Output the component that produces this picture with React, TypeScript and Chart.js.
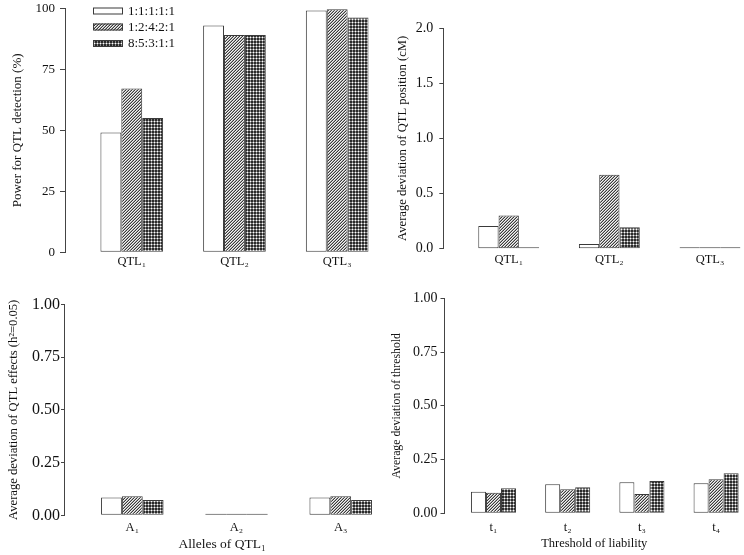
import React, { useEffect, useRef } from "react";
import { Chart, registerables } from "chart.js";

Chart.register(...registerables);

// ---------- data ----------
const seriesLabels = ["1:1:1:1:1", "1:2:4:2:1", "8:5:3:1:1"];

const powerCats = ["QTL₁", "QTL₂", "QTL₃"];
const powerS1 = [49.1, 93.0, 99.1];
const powerS2 = [67.1, 89.1, 99.6];
const powerS3 = [55.0, 89.1, 96.2];
const powerTicks = [0, 25, 50, 75, 100];

const posCats = ["QTL₁", "QTL₂", "QTL₃"];
const posS1 = [0.206, 0.043, 0];
const posS2 = [0.30, 0.67, 0.005];
const posS3 = [0, 0.194, 0];
const posTicks = [0, 0.5, 1.0, 1.5, 2.0];

const effCats = ["A₁", "A₂", "A₃"];
const effS1 = [0.084, 0, 0.084];
const effS2 = [0.09, 0.003, 0.09];
const effS3 = [0.072, 0, 0.073];
const effTicks = [0, 0.25, 0.5, 0.75, 1.0];

const thrCats = ["t₁", "t₂", "t₃", "t₄"];
const thrS1 = [0.10, 0.135, 0.144, 0.14];
const thrS2 = [0.096, 0.112, 0.09, 0.158];
const thrS3 = [0.116, 0.121, 0.15, 0.186];
const thrTicks = [0, 0.25, 0.5, 0.75, 1.0];

// ---------- styling helpers ----------
const FONT = "'Liberation Serif', 'Times New Roman', serif";
const AXIS = "#444";
const TEXT = "#111";
const EDGE = "#3a3a3a";

function makeHatch(): CanvasPattern | string {
  const c = document.createElement("canvas");
  c.width = 3;
  c.height = 3;
  const g = c.getContext("2d");
  if (!g) return "#999";
  g.fillStyle = "#f4f4f4";
  g.fillRect(0, 0, 3, 3);
  g.fillStyle = "#3a3a3a";
  g.fillRect(0, 2, 1, 1);
  g.fillRect(1, 1, 1, 1);
  g.fillRect(2, 0, 1, 1);
  g.fillStyle = "#a8a8a8";
  g.fillRect(0, 1, 1, 1);
  g.fillRect(1, 0, 1, 1);
  g.fillRect(2, 2, 1, 1);
  return g.createPattern(c, "repeat") || "#999";
}

function makeCross(): CanvasPattern | string {
  const c = document.createElement("canvas");
  c.width = 3;
  c.height = 3;
  const g = c.getContext("2d");
  if (!g) return "#555";
  g.fillStyle = "#2a2a2a";
  g.fillRect(0, 0, 3, 3);
  g.fillStyle = "#ffffff";
  g.fillRect(1, 1, 1, 1);
  g.fillStyle = "#8a8a8a";
  g.fillRect(1, 0, 1, 1);
  g.fillRect(0, 1, 1, 1);
  g.fillRect(2, 1, 1, 1);
  g.fillRect(1, 2, 1, 1);
  return g.createPattern(c, "repeat") || "#555";
}

const legendPlugin = {
  id: "patternLegend",
  afterDatasetsDraw(chart: any, _args: any, opts: any) {
    if (!opts || !opts.show) return;
    const ctx = chart.ctx;
    ctx.save();
    chart.data.datasets.forEach((ds: any, i: number) => {
      const cy = opts.ys[i];
      const x = opts.x;
      ctx.fillStyle = ds.backgroundColor;
      ctx.fillRect(x, cy - opts.boxH / 2, opts.boxW, opts.boxH);
      ctx.strokeStyle = EDGE;
      ctx.lineWidth = 1;
      ctx.strokeRect(x + 0.5, cy - opts.boxH / 2 + 0.5, opts.boxW - 1, opts.boxH - 1);
      ctx.fillStyle = TEXT;
      ctx.font = `${opts.fontSize}px ${FONT}`;
      ctx.textBaseline = "middle";
      ctx.textAlign = "left";
      ctx.fillText(ds.label, x + opts.boxW + opts.gap, cy + 0.5);
    });
    ctx.restore();
  },
};

type PanelProps = {
  left: number;
  top: number;
  width: number;
  height: number;
  axisX: number;
  plotTop: number;
  plotBottom: number;
  xMin: number;
  xMax: number;
  catPct: number;
  cats: string[];
  series: number[][];
  yTicks: number[];
  decimals: number;
  yTitle: string;
  yTitleSize: number;
  yTitlePad: number;
  xTitle?: string;
  xTitleSize?: number;
  xTitlePad?: number;
  tickSize: number;
  tickLen: number;
  tickPad: number;
  catSize: number;
  catPad: number;
  legend?: boolean;
};

function Panel(p: PanelProps) {
  const ref = useRef<HTMLCanvasElement | null>(null);
  useEffect(() => {
    if (!ref.current) return;
    const fills = ["#ffffff", makeHatch(), makeCross()];
    const yMax = p.yTicks[p.yTicks.length - 1];
    const datasets = p.series.map((vals, si) => ({
      label: seriesLabels[si],
      data: vals.map((v, i) => ({ x: i + 1, y: v })),
      backgroundColor: fills[si] as any,
      borderColor: EDGE,
      borderWidth: 1,
      borderSkipped: false as any,
      minBarLength: 1.5,
      categoryPercentage: p.catPct,
      barPercentage: 1,
      clip: false as any,
    }));
    const chart = new Chart(ref.current, {
      type: "bar",
      data: { datasets },
      options: {
        animation: false,
        responsive: false,
        devicePixelRatio: 1,
        layout: {
          padding: {
            left: 0,
            right: 0,
            top: p.plotTop - p.top,
            bottom: 0,
          },
        },
        plugins: {
          legend: { display: false },
          tooltip: { enabled: false },
          patternLegend: {
            show: !!p.legend,
            x: 93,
            ys: [11, 27, 43.5],
            boxW: 30,
            boxH: 7,
            gap: 5,
            fontSize: 13,
          },
        } as any,
        scales: {
          x: {
            type: "linear",
            offset: false,
            min: p.xMin,
            max: p.xMax,
            grid: { display: false, drawTicks: false, offset: false },
            border: { display: false },
            afterBuildTicks: (scale: any) => {
              scale.ticks = p.cats.map((_, i) => ({ value: i + 1 }));
            },
            afterFit: (scale: any) => {
              scale.height = p.top + p.height - p.plotBottom;
              scale.paddingLeft = 0;
              scale.paddingRight = 0;
              scale.paddingTop = 0;
              scale.paddingBottom = 0;
            },
            ticks: {
              autoSkip: false,
              maxRotation: 0,
              minRotation: 0,
              padding: p.catPad,
              color: TEXT,
              font: { family: FONT, size: p.catSize },
              callback: (v: any) => p.cats[Math.round(Number(v)) - 1] ?? "",
            },
            title: p.xTitle
              ? {
                  display: true,
                  text: p.xTitle,
                  color: TEXT,
                  font: { family: FONT, size: p.xTitleSize },
                  padding: { top: 0, bottom: p.xTitlePad ?? 0 },
                }
              : { display: false },
          } as any,
          y: {
            type: "linear",
            min: 0,
            max: yMax,
            grid: {
              drawOnChartArea: false,
              drawTicks: true,
              tickLength: p.tickLen,
              color: AXIS,
            },
            border: { display: true, color: AXIS, width: 1 },
            afterBuildTicks: (scale: any) => {
              scale.ticks = p.yTicks.map((v) => ({ value: v }));
            },
            afterFit: (scale: any) => {
              scale.width = p.axisX - p.left;
              scale.paddingTop = 0;
              scale.paddingBottom = 0;
              scale.paddingLeft = 0;
              scale.paddingRight = 0;
            },
            ticks: {
              padding: p.tickPad,
              color: TEXT,
              font: { family: FONT, size: p.tickSize },
              callback: (v: any) => Number(v).toFixed(p.decimals),
            },
            title: {
              display: true,
              text: p.yTitle,
              color: TEXT,
              font: { family: FONT, size: p.yTitleSize },
              padding: { top: p.yTitlePad, bottom: 0 },
            },
          },
        },
      },
      plugins: [legendPlugin as any],
    });
    return () => chart.destroy();
  }, []);
  return (
    <canvas
      ref={ref}
      width={p.width}
      height={p.height}
      style={{
        position: "absolute",
        left: p.left,
        top: p.top,
        width: p.width,
        height: p.height,
      }}
    />
  );
}

export default function App() {
  return (
    <div
      style={{
        position: "absolute",
        left: 0,
        top: 0,
        width: 744,
        height: 555,
        background: "#ffffff",
        overflow: "hidden",
      }}
    >
      <Panel
        left={0}
        top={0}
        width={380}
        height={272}
        axisX={65}
        plotTop={8.3}
        plotBottom={252.3}
        xMin={0.35}
        xMax={3.417}
        catPct={0.61}
        cats={powerCats}
        series={[powerS1, powerS2, powerS3]}
        yTicks={powerTicks}
        decimals={0}
        yTitle="Power for QTL detection (%)"
        yTitleSize={13}
        yTitlePad={10}
        tickSize={13}
        tickLen={5}
        tickPad={5}
        catSize={12.5}
        catPad={2}
        legend
      />
      <Panel
        left={380}
        top={0}
        width={364}
        height={272}
        axisX={443.3}
        plotTop={28}
        plotBottom={248.7}
        xMin={0.35}
        xMax={3.338}
        catPct={0.605}
        cats={posCats}
        series={[posS1, posS2, posS3]}
        yTicks={posTicks}
        decimals={1}
        yTitle="Average deviation of QTL position (cM)"
        yTitleSize={12.6}
        yTitlePad={15.4}
        tickSize={14}
        tickLen={4}
        tickPad={6}
        catSize={12.5}
        catPad={4}
      />
      <Panel
        left={0}
        top={275}
        width={380}
        height={280}
        axisX={64}
        plotTop={304.3}
        plotBottom={515.3}
        xMin={0.3445}
        xMax={3.377}
        catPct={0.6}
        cats={effCats}
        series={[effS1, effS2, effS3]}
        yTicks={effTicks}
        decimals={2}
        yTitle="Average deviation of QTL effects (h²=0.05)"
        yTitleSize={12.6}
        yTitlePad={5.7}
        xTitle="Alleles of QTL₁"
        xTitleSize={13.5}
        xTitlePad={2}
        tickSize={16}
        tickLen={3}
        tickPad={1}
        catSize={12.5}
        catPad={4.5}
      />
      <Panel
        left={380}
        top={275}
        width={364}
        height={280}
        axisX={444.5}
        plotTop={298.3}
        plotBottom={513.3}
        xMin={0.34}
        xMax={4.376}
        catPct={0.607}
        cats={thrCats}
        series={[thrS1, thrS2, thrS3]}
        yTicks={thrTicks}
        decimals={2}
        yTitle="Average deviation of threshold"
        yTitleSize={11.8}
        yTitlePad={9.6}
        xTitle="Threshold of liability"
        xTitleSize={12.5}
        xTitlePad={3.5}
        tickSize={14}
        tickLen={4}
        tickPad={3}
        catSize={12.5}
        catPad={7}
      />
    </div>
  );
}
